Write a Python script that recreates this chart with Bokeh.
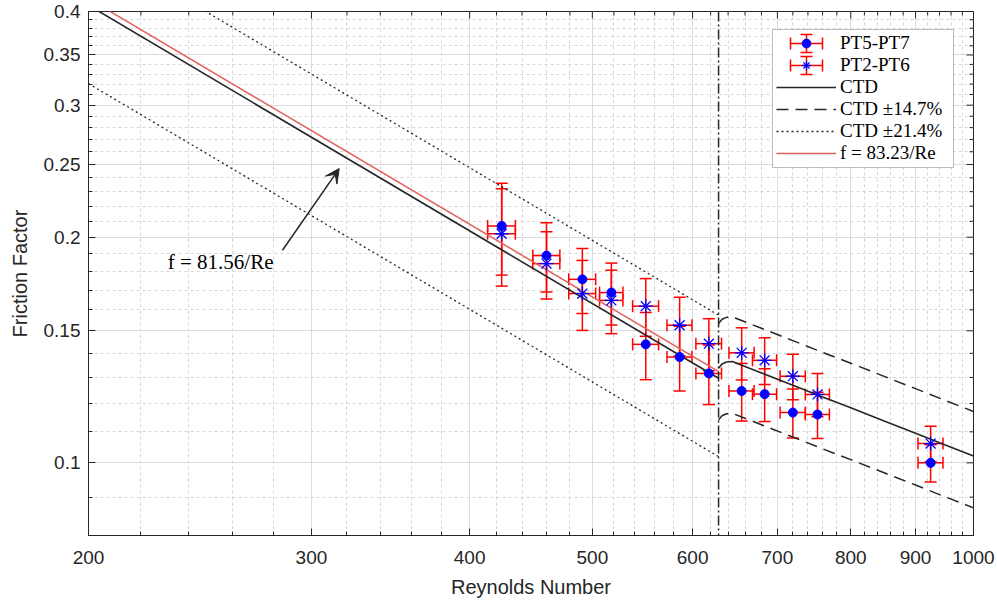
from bokeh.plotting import figure
from bokeh.models import (ColumnDataSource, Whisker, TeeHead, FixedTicker, NumeralTickFormatter,
                          Span, Arrow, VeeHead, Label, Legend, LegendItem, BoxAnnotation, Range1d)
from bokeh.embed import file_html
from bokeh.resources import INLINE

# ---------------- data ----------------
re_pts = [424, 460, 491, 517.6, 551, 586, 618, 656, 684, 720, 753, 925]
re_err = [10.7, 11.3, 12, 11, 13, 13.3, 14.4, 15, 15, 16.5, 16.5, 21]

f_pt57 = [0.207, 0.189, 0.1757, 0.1687, 0.1439, 0.1384, 0.1316, 0.1247, 0.1235, 0.1167, 0.1160, 0.1000]
f_pt57_err = [0.029, 0.020, 0.0175, 0.016, 0.0148, 0.0137, 0.012, 0.011, 0.010, 0.0088, 0.0082, 0.0057]

f_pt26 = [0.2021, 0.1844, 0.1682, 0.1647, 0.1618, 0.1526, 0.1442, 0.1402, 0.1370, 0.1305, 0.1234, 0.1061]
f_pt26_err = [0.030, 0.019, 0.018, 0.016, 0.0143, 0.0137, 0.0115, 0.0112, 0.0098, 0.0091, 0.0082, 0.0058]

RE_CRIT = 629          # transition Reynolds number (dash-dot line)
C_CTD = 81.56          # laminar CTD: f = 81.56/Re
C_FIT = 83.23          # fit: f = 83.23/Re
TOL_DASH = 0.147       # CTD +-14.7 %
TOL_DOT = 0.214        # CTD +-21.4 %

re_lam = [200, RE_CRIT]
re_turb = [629, 633, 638, 645, 680, 720, 760, 800, 850, 900, 950, 1000]
f_ctd_turb = [0.1338, 0.1355, 0.1363, 0.1365, 0.1318, 0.1269, 0.1224, 0.1184, 0.1137, 0.1095, 0.1056, 0.1021]

x_major = [200, 300, 400, 500, 600, 700, 800, 900, 1000]
x_minor = [v for v in range(200, 1001, 20) if v % 100 != 0]
y_major = [0.1, 0.15, 0.2, 0.25, 0.3, 0.35, 0.4]
y_minor = [round(0.08 + 0.01 * i, 2) for i in range(33)]
y_minor = [v for v in y_minor if all(abs(v - m) > 1e-9 for m in y_major)]

legend_labels = ["PT5-PT7", "PT2-PT6", "CTD", "CTD \u00b114.7%", "CTD \u00b121.4%", "f = 83.23/Re"]
annot_text = "f = 81.56/Re"
annot_pos = (231, 0.1853)
arrow_start = (284.6, 0.1921)
arrow_end = (315.5, 0.2469)

# ---------------- derived ----------------
f_ctd_lam = [C_CTD / r for r in re_lam]
f_fit_lam = [C_FIT / r for r in re_lam]
f_dot_hi = [(1 + TOL_DOT) * v for v in f_ctd_lam]
f_dot_lo = [(1 - TOL_DOT) * v for v in f_ctd_lam]
f_dash_hi = [(1 + TOL_DASH) * v for v in f_ctd_turb]
f_dash_lo = [(1 - TOL_DASH) * v for v in f_ctd_turb]

INK = "#262626"
SANS = "Liberation Sans"
SERIF = "Liberation Serif"
W, H = 997, 602
BL, BR, BT, BB = 88, 24, 11, 67
FRAME_W, FRAME_H = W - BL - BR, H - BT - BB
MAJ_LEN, MIN_LEN = 7, 4

p = figure(width=W, height=H, x_axis_type="log", y_axis_type="log",
           x_range=Range1d(200, 1000), y_range=Range1d(0.08, 0.4),
           output_backend="svg", toolbar_location=None,
           min_border_left=BL, min_border_right=BR, min_border_top=BT, min_border_bottom=BB,
           background_fill_color="white", border_fill_color="white")
p.outline_line_color = INK
p.outline_line_width = 1

xt = FixedTicker(ticks=x_major, minor_ticks=x_minor)
yt = FixedTicker(ticks=y_major, minor_ticks=y_minor)

for ax, tk, fmt in [(p.xaxis[0], xt, "0"), (p.yaxis[0], yt, "0.[00]")]:
    ax.ticker = tk
    ax.formatter = NumeralTickFormatter(format=fmt)
    ax.major_tick_in = MAJ_LEN
    ax.major_tick_out = 0
    ax.minor_tick_in = MIN_LEN
    ax.minor_tick_out = 0
    ax.axis_line_color = INK
    ax.major_tick_line_color = INK
    ax.minor_tick_line_color = INK
    ax.major_label_text_font = SANS
    ax.major_label_text_font_size = "19px"
    ax.major_label_text_color = INK
    ax.axis_label_text_font = SANS
    ax.axis_label_text_font_size = "20px"
    ax.axis_label_text_font_style = "normal"
    ax.axis_label_text_color = INK

p.xaxis.axis_label = "Reynolds Number"
p.yaxis.axis_label = "Friction Factor"
p.xaxis.major_label_standoff = 15
p.yaxis.major_label_standoff = 8
p.xaxis.axis_label_standoff = 9
p.yaxis.axis_label_standoff = 10

p.xgrid.ticker = xt
p.ygrid.ticker = yt
for g in (p.xgrid[0], p.ygrid[0]):
    g.grid_line_color = "#dcdcdc"
    g.grid_line_width = 1
    g.minor_grid_line_color = "#d6d6d6"
    g.minor_grid_line_dash = "3 3"
    g.minor_grid_line_width = 1

# mirrored ticks on top and right frame edges (box on)
top_src = ColumnDataSource(dict(
    x=x_major + x_minor,
    lo=[FRAME_H - MAJ_LEN] * len(x_major) + [FRAME_H - MIN_LEN] * len(x_minor),
    hi=[FRAME_H] * (len(x_major) + len(x_minor))))
p.add_layout(Whisker(source=top_src, base="x", lower="lo", upper="hi", dimension="height",
                     lower_units="screen", upper_units="screen",
                     line_color=INK, line_width=1, lower_head=None, upper_head=None))
right_src = ColumnDataSource(dict(
    y=y_major + y_minor,
    lo=[FRAME_W - MAJ_LEN] * len(y_major) + [FRAME_W - MIN_LEN] * len(y_minor),
    hi=[FRAME_W] * (len(y_major) + len(y_minor))))
p.add_layout(Whisker(source=right_src, base="y", lower="lo", upper="hi", dimension="width",
                     lower_units="screen", upper_units="screen",
                     line_color=INK, line_width=1, lower_head=None, upper_head=None))

# ---------------- legend frame (underlay) ----------------
LEG_X, LEG_Y = 685, 368
PAD, ROW_H, SPACING, GLYPH_W = 3, 22, 0, 60
n_items = len(legend_labels)
leg_h = 2 * PAD + n_items * ROW_H + (n_items - 1) * SPACING
leg_top = LEG_Y + leg_h
frame_box = BoxAnnotation(left=LEG_X - 1, right=LEG_X + 180, bottom=LEG_Y, top=leg_top,
                          left_units="screen", right_units="screen",
                          bottom_units="screen", top_units="screen",
                          fill_color="white", fill_alpha=1.0, line_color=INK, line_width=1,
                          level="underlay")
p.add_layout(frame_box)

# ---------------- error bars ----------------
def tee(sz):
    return TeeHead(size=sz, line_color="red", line_width=1.5)

for fv, fe in [(f_pt57, f_pt57_err), (f_pt26, f_pt26_err)]:
    src = ColumnDataSource(dict(
        re=re_pts, f=fv,
        f_lo=[a - b for a, b in zip(fv, fe)], f_hi=[a + b for a, b in zip(fv, fe)],
        re_lo=[a - b for a, b in zip(re_pts, re_err)], re_hi=[a + b for a, b in zip(re_pts, re_err)]))
    p.add_layout(Whisker(source=src, base="re", lower="f_lo", upper="f_hi", dimension="height",
                         line_color="red", line_width=1.5, lower_head=tee(12), upper_head=tee(12)))
    p.add_layout(Whisker(source=src, base="f", lower="re_lo", upper="re_hi", dimension="width",
                         line_color="red", line_width=1.5, lower_head=tee(12), upper_head=tee(12)))

# legend icons for error bars (screen units inside the legend frame)
icon_cx = LEG_X + PAD + GLYPH_W / 2
for i in range(2):
    cy = leg_top - PAD - ROW_H / 2 - i * (ROW_H + SPACING)
    isrc = ColumnDataSource(dict(b=[cy], lo=[icon_cx - 16], hi=[icon_cx + 16],
                                 bx=[icon_cx], vlo=[cy - 9], vhi=[cy + 9]))
    p.add_layout(Whisker(source=isrc, base="b", lower="lo", upper="hi", dimension="width",
                         base_units="screen", lower_units="screen", upper_units="screen",
                         line_color="red", line_width=1.5, lower_head=tee(12), upper_head=tee(12)))
    p.add_layout(Whisker(source=isrc, base="bx", lower="vlo", upper="vhi", dimension="height",
                         base_units="screen", lower_units="screen", upper_units="screen",
                         line_color="red", line_width=1.5, lower_head=tee(12), upper_head=tee(12)))

# ---------------- model lines ----------------
r_dot = p.line(re_lam, f_dot_hi, line_color=INK, line_width=1.3, line_dash="2 3")
p.line(re_lam, f_dot_lo, line_color=INK, line_width=1.3, line_dash="2 3")
r_dash = p.line(re_turb, f_dash_hi, line_color=INK, line_width=1.5, line_dash="12 7")
p.line(re_turb, f_dash_lo, line_color=INK, line_width=1.5, line_dash="12 7")
r_ctd = p.line(re_lam, f_ctd_lam, line_color=INK, line_width=1.6)
p.line(re_turb, f_ctd_turb, line_color=INK, line_width=1.6)
r_fit = p.line(re_lam, f_fit_lam, line_color="#e0605e", line_width=1.5)

p.add_layout(Span(location=RE_CRIT, dimension="height", line_color=INK, line_width=1.5,
                  line_dash="10 3 2 3"))

# ---------------- markers ----------------
r57 = p.scatter(re_pts, f_pt57, marker="circle", size=9, fill_color="blue", line_color="blue")
r26 = p.scatter(re_pts, f_pt26, marker="asterisk", size=14, line_color="blue", line_width=1.3)

# ---------------- annotation ----------------
p.add_layout(Arrow(end=VeeHead(size=14, fill_color=INK, line_color=INK, line_width=1),
                   x_start=arrow_start[0], y_start=arrow_start[1],
                   x_end=arrow_end[0], y_end=arrow_end[1],
                   line_color=INK, line_width=1.5))
p.add_layout(Label(x=annot_pos[0], y=annot_pos[1], text=annot_text, text_font=SERIF,
                   text_font_size="21px", text_baseline="middle", text_align="left",
                   text_color="black"))

# ---------------- legend ----------------
items = [LegendItem(label=legend_labels[0], renderers=[r57]),
         LegendItem(label=legend_labels[1], renderers=[r26]),
         LegendItem(label=legend_labels[2], renderers=[r_ctd]),
         LegendItem(label=legend_labels[3], renderers=[r_dash]),
         LegendItem(label=legend_labels[4], renderers=[r_dot]),
         LegendItem(label=legend_labels[5], renderers=[r_fit])]
legend = Legend(items=items, location=(LEG_X, LEG_Y), padding=PAD, spacing=SPACING,
                glyph_width=GLYPH_W, glyph_height=ROW_H, label_height=ROW_H,
                label_standoff=4, label_text_font=SERIF, label_text_font_size="19px",
                label_text_color="black", background_fill_alpha=0, border_line_alpha=0,
                margin=0)
p.add_layout(legend)

open("out.html", "w").write(file_html(p, INLINE))
